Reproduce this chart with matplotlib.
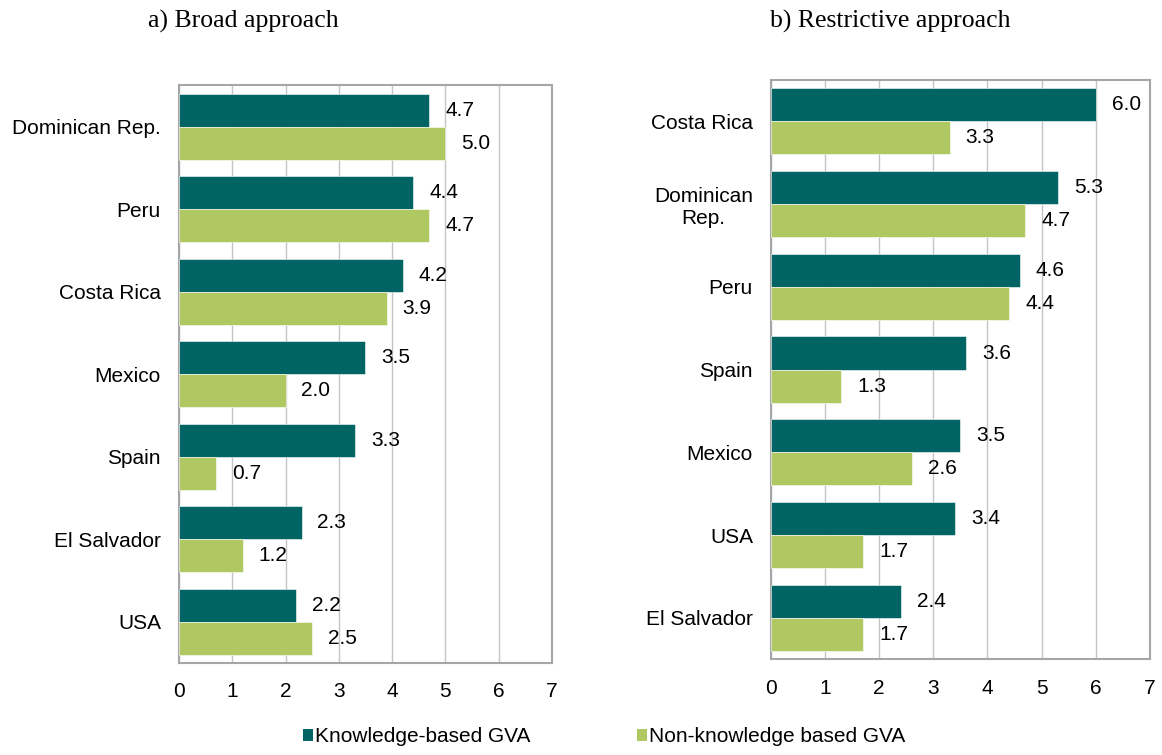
import matplotlib.pyplot as plt
from matplotlib.patches import Patch
import numpy as np

# data
broad_countries = ["Dominican Rep.", "Peru", "Costa Rica", "Mexico", "Spain", "El Salvador", "USA"]
broad_knowledge = [4.7, 4.4, 4.2, 3.5, 3.3, 2.3, 2.2]
broad_non = [5.0, 4.7, 3.9, 2.0, 0.7, 1.2, 2.5]

restr_countries = ["Costa Rica", "Dominican\nRep.", "Peru", "Spain", "Mexico", "USA", "El Salvador"]
restr_knowledge = [6.0, 5.3, 4.6, 3.6, 3.5, 3.4, 2.4]
restr_non = [3.3, 4.7, 4.4, 1.3, 2.6, 1.7, 1.7]

x_ticks = [0, 1, 2, 3, 4, 5, 6, 7]
series_names = ["Knowledge-based GVA", "Non-knowledge based GVA"]

c_know = "#006464"
c_non = "#AFC862"
grid_c = "#C4C4C4"
spine_c = "#A6A6A6"
sans = "Liberation Sans"
serif = "Liberation Serif"

fig = plt.figure(figsize=(11.62, 7.55), dpi=100)
ax_a = fig.add_axes([0.154, 0.122, 0.321, 0.765])
ax_b = fig.add_axes([0.6635, 0.127, 0.326, 0.767])


def draw_panel(ax, countries, know, non):
    y = np.arange(len(countries))
    h = 0.4
    ax.barh(y - h / 2, know, height=h, color=c_know, edgecolor="white", linewidth=0.4, zorder=3)
    ax.barh(y + h / 2, non, height=h, color=c_non, edgecolor="white", linewidth=0.4, zorder=3)
    for yy, v in zip(y - h / 2, know):
        ax.annotate(f"{v:.1f}", xy=(v, yy), xytext=(11.5, 0), textcoords="offset points",
                    va="center", ha="left", fontsize=15, family=sans, zorder=4)
    for yy, v in zip(y + h / 2, non):
        ax.annotate(f"{v:.1f}", xy=(v, yy), xytext=(11.5, 0), textcoords="offset points",
                    va="center", ha="left", fontsize=15, family=sans, zorder=4)
    ax.set_xlim(0, 7)
    ax.set_ylim(len(countries) - 0.5, -0.5)
    ax.set_xticks(x_ticks)
    ax.set_xticklabels([str(t) for t in x_ticks], fontsize=15, family=sans)
    ax.set_yticks(y)
    ax.set_yticklabels(countries, fontsize=15, family=sans, ha="right", multialignment="center")
    ax.tick_params(axis="x", length=0, pad=14)
    ax.tick_params(axis="y", length=0, pad=13)
    ax.grid(axis="x", color=grid_c, linewidth=1.0, zorder=0)
    for s in ax.spines.values():
        s.set_color(spine_c)
        s.set_linewidth(1.5)


draw_panel(ax_a, broad_countries, broad_knowledge, broad_non)
draw_panel(ax_b, restr_countries, restr_knowledge, restr_non)

fig.text(0.209, 0.971, "a) Broad approach", ha="center", va="center", fontsize=18.5, family=serif)
fig.text(0.766, 0.971, "b) Restrictive approach", ha="center", va="center", fontsize=18.5, family=serif)

handles = [Patch(facecolor=c_know, edgecolor="none"), Patch(facecolor=c_non, edgecolor="none")]
fig.legend(handles, series_names, loc="center", bbox_to_anchor=(0.520, 0.024), ncol=2,
           frameon=False, prop={"family": sans, "size": 15},
           handlelength=0.5, handleheight=0.5, handletextpad=0.1, columnspacing=5.1)

fig.savefig("out.png", dpi=100)
